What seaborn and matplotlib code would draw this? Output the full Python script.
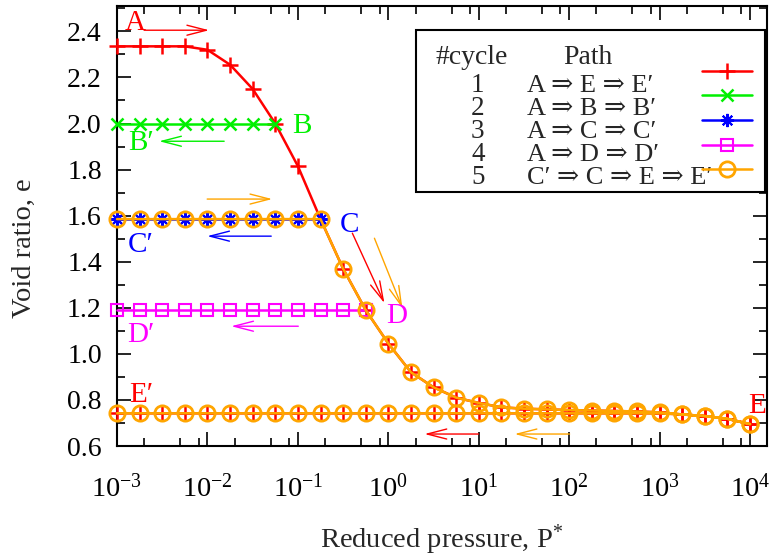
import matplotlib
matplotlib.use("Agg")
import matplotlib.pyplot as plt
import matplotlib.ticker as mticker
from matplotlib.patches import Rectangle
import seaborn as sns

# ----------------------------------------------------------------------
# Data
# ----------------------------------------------------------------------
# reduced pressure grid, 4 points per decade
P = [0.001, 0.00178, 0.00316, 0.00562, 0.01, 0.0178, 0.0316, 0.0562,
     0.1, 0.178, 0.316, 0.562, 1.0, 1.78, 3.16, 5.62,
     10.0, 17.8, 31.6, 56.2, 100.0, 178.0, 316.0, 562.0,
     1000.0, 1780.0, 3160.0, 5620.0, 10000.0]

# virgin loading curve A -> E (ascending P)
E_LOAD = [2.335, 2.335, 2.335, 2.335, 2.32, 2.255, 2.15, 2.0,
          1.815, 1.585, 1.37, 1.19, 1.045, 0.92, 0.855, 0.81,
          0.787, 0.768, 0.762, 0.759, 0.756, 0.754, 0.752, 0.75,
          0.746, 0.737, 0.73, 0.718, 0.695]

# unloading E -> E' (values given for ascending P)
E_UNLOAD = [0.742, 0.742, 0.742, 0.742, 0.742, 0.742, 0.742, 0.742,
            0.742, 0.742, 0.742, 0.742, 0.742, 0.742, 0.742, 0.742,
            0.742, 0.742, 0.742, 0.742, 0.742, 0.742, 0.742, 0.742,
            0.742, 0.737, 0.73, 0.718, 0.695]

# unloading branches of the other cycles
E_B = [2.0, 2.0, 2.0, 2.0, 2.0, 2.0, 2.0, 2.0]
E_C = [1.585, 1.585, 1.585, 1.585, 1.585, 1.585, 1.585, 1.585, 1.585, 1.585]
E_D = [1.19, 1.19, 1.19, 1.19, 1.19, 1.19, 1.19, 1.19, 1.19, 1.19, 1.19, 1.19]

CYCLES = ['1', '2', '3', '4', '5']
PATHS = ['A \u21d2 E \u21d2 E\u2032', 'A \u21d2 B \u21d2 B\u2032',
         'A \u21d2 C \u21d2 C\u2032', 'A \u21d2 D \u21d2 D\u2032',
         'C\u2032 \u21d2 C \u21d2 E \u21d2 E\u2032']
COLORS = ['#ff0000', '#00f000', '#0000ff', '#ff00ff', '#ffa500']

# ----------------------------------------------------------------------
# Style
# ----------------------------------------------------------------------
sns.set_style('ticks')
plt.rcParams['font.family'] = ['Liberation Serif', 'DejaVu Serif']
plt.rcParams['mathtext.fontset'] = 'custom'
plt.rcParams['mathtext.rm'] = 'Liberation Serif'
plt.rcParams['mathtext.it'] = 'Liberation Serif:italic'
plt.rcParams['mathtext.bf'] = 'Liberation Serif:bold'
plt.rcParams['axes.linewidth'] = 1.5

fig = plt.figure(figsize=(7.75, 5.58), dpi=100)
ax = fig.add_axes([0.151, 0.2007, 0.8387, 0.7885])

# ----------------------------------------------------------------------
# Series (cycle 1 drawn first, cycle 5 last on top)
# ----------------------------------------------------------------------
p_rev = P[::-1]
styles = [
    dict(marker='+', ms=11, mew=1.8, mfc='none'),
    dict(marker='x', ms=9, mew=1.8, mfc='none'),
    dict(marker=(8, 2, 0), ms=9.5, mew=1.5, mfc='none'),
    dict(marker='s', ms=8, mew=1.5, mfc='none'),
    dict(marker='o', ms=11, mew=2.0, mfc='none'),
]
series = [
    (P + p_rev, E_LOAD + E_UNLOAD[::-1]),
    (P[:8][::-1], E_B[::-1]),
    (P[:10][::-1], E_C[::-1]),
    (P[:12][::-1], E_D[::-1]),
    (P[:10] + P[10:] + p_rev, E_C + E_LOAD[10:] + E_UNLOAD[::-1]),
]
for (xs, ys), col, st in zip(series, COLORS, styles):
    sns.lineplot(x=xs, y=ys, ax=ax, sort=False, estimator=None, color=col,
                 lw=1.8, mec=col, clip_on=False, zorder=3, **st)

# ----------------------------------------------------------------------
# Point labels and arrows
# ----------------------------------------------------------------------
LABELS = [('A', 1.58e-3, 2.405, 0), ('B', 0.112, 1.958, 1), ('B\u2032', 1.85e-3, 1.884, 1),
          ('C', 0.371, 1.528, 2), ('C\u2032', 1.85e-3, 1.442, 2),
          ('D', 1.23, 1.134, 3), ('D\u2032', 1.85e-3, 1.051, 3),
          ('E\u2032', 1.85e-3, 0.791, 0), ('E', 1.2e4, 0.743, 0)]
for txt, x, y, c in LABELS:
    ax.text(x, y, txt, color=COLORS[c], fontsize=21, ha='center', va='baseline',
            clip_on=False, zorder=5)

ARROWS = [((1.99e-3, 2.405), (0.01045, 2.405), 0),
          ((0.0153, 1.923), (2.92e-3, 1.923), 1),
          ((9.93e-3, 1.672), (0.0521, 1.672), 4),
          ((0.0507, 1.511), (9.93e-3, 1.511), 2),
          ((0.40, 1.524), (0.906, 1.22), 0),
          ((0.702, 1.502), (1.43, 1.199), 4),
          ((0.101, 1.12), (0.0183, 1.12), 3),
          ((9.96, 0.652), (2.51, 0.652), 0),
          ((101.0, 0.652), (24.9, 0.652), 4)]
for tail, head, c in ARROWS:
    ax.annotate('', xy=head, xytext=tail,
                arrowprops=dict(arrowstyle='->,head_length=0.7,head_width=0.18',
                                mutation_scale=20, color=COLORS[c], lw=1.0,
                                shrinkA=0, shrinkB=0))

# ----------------------------------------------------------------------
# Axes
# ----------------------------------------------------------------------
ax.set_xscale('log')
ax.set_xlim(1e-3, 1.54e4)
ax.set_ylim(0.6, 2.51)
ax.xaxis.set_major_locator(mticker.LogLocator(base=10, numticks=20))
ax.xaxis.set_minor_locator(mticker.LogLocator(base=10, subs=(2.0, 5.0, 8.0), numticks=20))
ax.xaxis.set_minor_formatter(mticker.NullFormatter())
ax.yaxis.set_major_locator(mticker.MultipleLocator(0.2))
ax.yaxis.set_minor_locator(mticker.MultipleLocator(0.1))
ax.yaxis.set_major_formatter(mticker.FormatStrFormatter('%.1f'))
ax.tick_params(which='both', direction='in', top=True, right=True, width=1.2, colors='black')
ax.tick_params(which='major', length=10)
ax.tick_params(which='minor', length=5.5)
ax.tick_params(axis='x', which='major', labelsize=20.5, pad=20)
ax.tick_params(axis='y', which='major', labelsize=20, pad=11)
for s in ax.spines.values():
    s.set_visible(True)
    s.set_color('black')

ax.set_xlabel('Reduced pressure, P$^{*}$', fontsize=20.5, va='center')
ax.xaxis.set_label_coords(0.5, -0.214)
ax.set_ylabel('Void ratio, e', fontsize=20.5, va='center')
ax.yaxis.set_label_coords(-0.143, 0.45)

# ----------------------------------------------------------------------
# Key (table of cycle / path with line samples)
# ----------------------------------------------------------------------
ax.add_patch(Rectangle((0.46, 0.577), 0.537, 0.368, transform=ax.transAxes,
                       fill=True, facecolor='white', edgecolor='black', lw=1.5, zorder=6))
ax.text(0.545, 0.868, '#cycle', transform=ax.transAxes, fontsize=20, ha='center',
        va='baseline', zorder=7)
ax.text(0.725, 0.868, 'Path', transform=ax.transAxes, fontsize=20, ha='center',
        va='baseline', zorder=7)
row_base = [0.8045, 0.7523, 0.70, 0.6477, 0.5955]
row_line = [0.853, 0.798, 0.741, 0.684, 0.630]
for i in range(5):
    ax.text(0.555, row_base[i], CYCLES[i], transform=ax.transAxes, fontsize=19.5,
            ha='center', va='baseline', zorder=7)
    ax.text(0.631, row_base[i], PATHS[i], transform=ax.transAxes, fontsize=19,
            ha='left', va='baseline', zorder=7)
    ax.plot([0.90, 0.977], [row_line[i], row_line[i]], transform=ax.transAxes,
            color=COLORS[i], lw=1.8, zorder=7)
    ax.plot([0.938], [row_line[i]], transform=ax.transAxes, color=COLORS[i],
            mec=COLORS[i], zorder=8, **styles[i])

fig.savefig('out.png', dpi=100)
